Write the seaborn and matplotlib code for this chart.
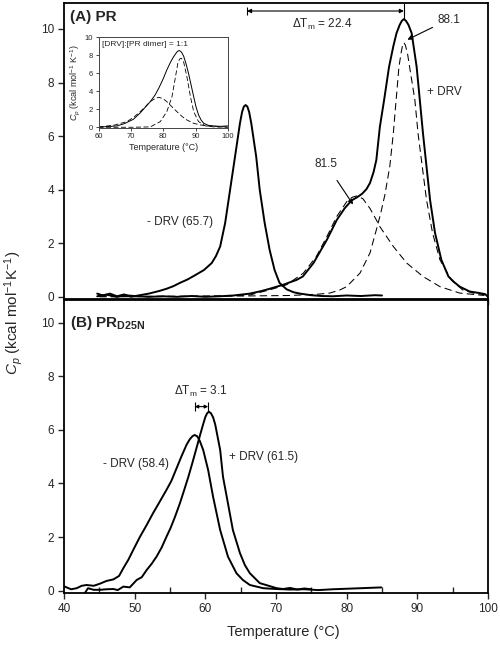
#!/usr/bin/env python3
import matplotlib

matplotlib.use("Agg")

import matplotlib.pyplot as plt
import pandas as pd
import seaborn as sns
from matplotlib.ticker import MultipleLocator

sns.set_theme(style="ticks")
plt.rcParams["font.family"] = ["Liberation Sans", "DejaVu Sans"]
plt.rcParams["mathtext.fontset"] = "custom"
plt.rcParams["mathtext.rm"] = "Liberation Sans"
plt.rcParams["mathtext.it"] = "Liberation Sans:italic"
plt.rcParams["mathtext.bf"] = "Liberation Sans:bold"
plt.rcParams["axes.unicode_minus"] = False

# (A) PR, free enzyme
pr_free_t = [44.7, 45.5, 46.5, 47.5, 48.5, 49.5, 50.5, 52.0, 53.5, 54.5, 55.5, 56.4, 57.5,
             58.5, 59.8, 60.9, 61.5, 62.1, 62.8, 63.5, 64.2, 64.9, 65.2, 65.45, 65.7,
             65.95, 66.2, 66.5, 67.2, 67.7, 68.4, 69.1, 69.8, 70.5, 71.5, 72.5, 73.4,
             75.0, 76.5, 78.0, 80.0, 82.0, 84.0, 85.0]
pr_free_cp = [0.12, 0.05, 0.12, 0.02, 0.09, 0.0, 0.05, 0.12, 0.22, 0.3, 0.4, 0.52, 0.65,
              0.8, 1.0, 1.26, 1.52, 1.88, 2.75, 3.99, 5.23, 6.48, 6.9, 7.1, 7.16,
              7.1, 6.9, 6.48, 5.23, 3.99, 2.75, 1.75, 1.0, 0.52, 0.28, 0.17, 0.12,
              0.06, 0.03, 0.02, 0.05, 0.03, 0.06, 0.05]

# (A) PR + DRV, measured
pr_drv_t = [44.7, 46.0, 47.5, 49.0, 50.5, 52.0, 54.0, 56.0, 58.0, 60.0, 62.0, 64.0, 66.3,
            68.0, 69.1, 71.0, 72.9, 73.8, 75.3, 77.2, 78.6, 79.7, 80.7, 81.5, 82.2,
            82.8, 83.3, 83.8, 84.2, 84.7, 85.3, 86.0, 86.6, 87.05, 87.5, 87.8, 88.1,
            88.4, 88.75, 89.2, 89.9, 90.35, 90.8, 91.3, 91.8, 92.5, 93.4, 94.4, 95.2,
            96.0, 97.4, 98.8, 99.6, 100.0]
pr_drv_cp = [0.02, 0.08, 0.0, 0.05, 0.02, 0.0, 0.02, 0.0, 0.03, 0.0, 0.02, 0.05, 0.12,
             0.22, 0.3, 0.45, 0.63, 0.76, 1.26, 2.13, 2.87, 3.3, 3.6, 3.72, 3.85,
             4.02, 4.25, 4.65, 5.11, 6.35, 7.35, 8.59, 9.35, 9.84, 10.15, 10.3, 10.37,
             10.3, 10.15, 9.84, 8.59, 7.35, 6.1, 4.86, 3.62, 2.39, 1.38, 0.76, 0.55,
             0.38, 0.2, 0.14, 0.1, 0.0]

# (A) deconvolved components
fit_hi_t = [45.0, 55.0, 65.0, 72.0, 76.0, 77.6, 79.0, 80.0, 81.9, 83.3, 84.2, 84.8, 85.4,
            86.1, 86.6, 87.0, 87.4, 87.7, 87.9, 88.1, 88.3, 88.6, 88.9, 89.65, 90.1,
            90.7, 91.3, 92.15, 93.2, 94.8, 96.4, 97.9, 99.5]
fit_hi_cp = [0.02, 0.02, 0.03, 0.05, 0.1, 0.14, 0.25, 0.38, 0.89, 1.64, 2.5, 3.1, 3.8,
             4.86, 6.1, 7.35, 8.59, 9.1, 9.38, 9.49, 9.4, 9.1, 8.59, 7.35, 6.1,
             4.86, 3.62, 2.39, 1.38, 0.63, 0.26, 0.14, 0.08]
fit_lo_t = [45.0, 55.0, 62.0, 66.3, 69.1, 71.5, 73.85, 75.7, 77.2, 78.6, 80.0, 80.8,
            81.5, 82.3, 83.3, 84.2, 84.7, 86.6, 88.5, 90.8, 93.2, 96.0, 99.5]
fit_lo_cp = [0.0, 0.01, 0.03, 0.07, 0.26, 0.45, 0.88, 1.5, 2.25, 3.0, 3.55, 3.72,
             3.77, 3.66, 3.3, 2.87, 2.62, 1.88, 1.26, 0.76, 0.38, 0.14, 0.05]

# (B) PR D25N
d25n_free_t = [40.1, 41.0, 41.8, 42.5, 43.2, 44.2, 45.1, 46.0, 47.0, 47.8, 48.4, 49.1,
               49.8, 50.75, 51.7, 52.6, 53.5, 54.5, 55.2, 55.9, 56.6, 57.35, 57.8, 58.2,
               58.5, 58.85, 59.2, 59.7, 60.4, 61.1, 62.1, 63.2, 64.4, 65.3, 66.3, 68.2,
               70.0, 72.0, 74.0, 76.0, 78.0, 80.0, 82.0, 84.9]
d25n_free_cp = [0.15, 0.05, 0.09, 0.18, 0.21, 0.18, 0.26, 0.36, 0.42, 0.55, 0.84, 1.15,
                1.52, 2.01, 2.45, 2.89, 3.3, 3.76, 4.1, 4.55, 5.0, 5.45, 5.65, 5.77,
                5.81, 5.76, 5.6, 5.25, 4.5, 3.5, 2.26, 1.27, 0.65, 0.4, 0.21, 0.09,
                0.06, 0.04, 0.05, 0.02, 0.05, 0.07, 0.09, 0.12]
d25n_drv_t = [43.0, 43.4, 44.2, 45.1, 46.0, 47.0, 47.6, 48.4, 49.3, 50.3, 51.0, 51.7,
              52.4, 53.1, 53.8, 54.5, 55.1, 55.7, 56.4, 57.0, 57.6, 58.2, 58.8, 59.3,
              59.7, 60.0, 60.25, 60.5, 60.8, 61.1, 61.4, 62.1, 62.5, 63.2, 63.9, 64.9,
              65.6, 66.3, 67.7, 70.1, 71.0, 72.0, 73.0, 74.0, 75.0]
d25n_drv_cp = [-0.07, 0.09, 0.03, 0.03, 0.05, 0.06, 0.02, 0.15, 0.12, 0.4, 0.5, 0.77,
               1.0, 1.27, 1.6, 2.01, 2.35, 2.75, 3.26, 3.75, 4.25, 4.8, 5.37, 5.85,
               6.22, 6.48, 6.62, 6.68, 6.62, 6.47, 6.2, 5.25, 4.25, 3.26, 2.26, 1.4,
               0.95, 0.65, 0.28, 0.09, 0.06, 0.1, 0.04, 0.08, 0.05]

# inset, [DRV]:[PR dimer] = 1:1
ins_t = [60.0, 62.0, 65.7, 68.0, 70.8, 72.9, 74.5, 76.0, 77.5, 78.6, 80.0, 81.1, 82.2,
         83.2, 84.2, 84.6, 84.9, 85.3, 85.7, 86.3, 87.0, 87.8, 88.6, 89.4, 90.1, 90.9,
         91.7, 92.5, 94.0, 95.6, 97.5, 100.0]
ins_cp = [0.03, 0.06, 0.15, 0.4, 0.89, 1.6, 2.25, 2.85, 3.6, 4.33, 5.4, 6.37, 7.2, 7.85,
          8.35, 8.48, 8.52, 8.47, 8.3, 7.9, 7.1, 6.0, 4.7, 3.4, 2.3, 1.37, 0.8, 0.44,
          0.2, 0.15, 0.1, 0.15]
ins_hi_t = [60.0, 70.0, 76.0, 79.1, 81.1, 82.7, 83.7, 84.5, 85.0, 85.4, 85.8, 86.3,
            87.3, 88.4, 89.4, 90.9, 93.0, 95.6, 100.0]
ins_hi_cp = [0.0, 0.0, 0.04, 0.63, 1.74, 3.4, 5.44, 7.1, 7.55, 7.67, 7.6, 7.25, 5.63,
             3.4, 1.74, 0.63, 0.15, 0.04, 0.0]
ins_lo_t = [60.0, 65.0, 68.8, 71.0, 72.9, 74.5, 76.0, 77.5, 78.6, 79.8, 81.1, 82.6,
            84.2, 85.8, 87.3, 89.3, 91.4, 94.0, 96.6, 100.0]
ins_lo_cp = [0.02, 0.25, 0.63, 1.15, 1.74, 2.3, 2.85, 3.2, 3.33, 3.2, 2.85, 2.3, 1.74,
             1.2, 0.81, 0.45, 0.26, 0.13, 0.07, 0.03]

DASH = (0, (7, 4))


def curve(ax, t, cp, lw=1.4, ls="-"):
    df = pd.DataFrame({"t": t, "cp": cp})
    sns.lineplot(data=df, x="t", y="cp", ax=ax, color="black", lw=lw, ls=ls,
                 sort=False, estimator=None, solid_joinstyle="round",
                 dash_joinstyle="round", solid_capstyle="round")


def style_main(ax, ylim):
    ax.set_xlim(40, 100)
    ax.set_ylim(*ylim)
    ax.set_yticks([0, 2, 4, 6, 8, 10])
    ax.xaxis.set_major_locator(MultipleLocator(10))
    ax.xaxis.set_minor_locator(MultipleLocator(5))
    ax.set_xlabel("")
    ax.set_ylabel("")
    for s in ax.spines.values():
        s.set_linewidth(1.3)
        s.set_color("black")
    ax.tick_params(axis="y", which="major", direction="out", length=4, width=1,
                   labelsize=8.5, pad=3)


fig = plt.figure(figsize=(5.0, 6.46), dpi=100)
ax_a = fig.add_axes([0.128, 0.5372, 0.848, 0.4582])
ax_b = fig.add_axes([0.128, 0.082, 0.848, 0.4536])

# ---- panel A
curve(ax_a, fit_hi_t, fit_hi_cp, lw=0.75, ls=DASH)
curve(ax_a, fit_lo_t, fit_lo_cp, lw=0.75, ls=DASH)
curve(ax_a, pr_free_t, pr_free_cp)
curve(ax_a, pr_drv_t, pr_drv_cp)
style_main(ax_a, (-0.08, 10.97))
ax_a.tick_params(axis="x", which="both", direction="out", length=4, width=1,
                 labelbottom=False)

ax_a.text(40.8, 10.45, "(A) PR", fontsize=11, fontweight="bold", va="center")
ax_a.annotate("", xy=(65.9, 10.67), xytext=(88.1, 10.67),
              arrowprops=dict(arrowstyle="<|-|>", lw=0.8, color="black",
                              mutation_scale=6, shrinkA=0, shrinkB=0))
ax_a.vlines(65.9, 10.52, 10.82, color="black", lw=0.8)
ax_a.vlines(88.1, 10.37, 10.97, color="black", lw=0.8)
ax_a.text(76.6, 10.15, r"$\Delta$T$_\mathrm{m}$ = 22.4", fontsize=8.5,
          ha="center", va="center")
ax_a.annotate("88.1", xy=(88.6, 9.6), xytext=(92.8, 10.35), fontsize=8.5,
              va="center", ha="left",
              arrowprops=dict(arrowstyle="-|>", lw=0.8, color="black",
                              mutation_scale=7, shrinkA=1, shrinkB=0))
ax_a.text(91.3, 7.65, "+ DRV", fontsize=8.5, va="center")
ax_a.annotate("81.5", xy=(80.9, 3.45), xytext=(77.1, 4.95), fontsize=8.5,
              ha="center", va="center",
              arrowprops=dict(arrowstyle="-|>", lw=0.8, color="black",
                              mutation_scale=7, shrinkA=6, shrinkB=0))
ax_a.text(51.7, 2.8, "- DRV (65.7)", fontsize=8.5, va="center")

# ---- inset
ax_in = fig.add_axes([0.197, 0.8023, 0.259, 0.14])
curve(ax_in, ins_hi_t, ins_hi_cp, lw=0.6, ls=(0, (6, 3)))
curve(ax_in, ins_lo_t, ins_lo_cp, lw=0.6, ls=(0, (6, 3)))
curve(ax_in, ins_t, ins_cp, lw=0.7)
ax_in.set_xlim(60, 100)
ax_in.set_ylim(-0.05, 10)
ax_in.set_xticks([60, 70, 80, 90, 100])
ax_in.set_yticks([0, 2, 4, 6, 8, 10])
ax_in.tick_params(labelsize=5.5, length=2, width=0.6, pad=2)
for s in ax_in.spines.values():
    s.set_linewidth(0.7)
    s.set_color("#444444")
ax_in.set_xlabel("Temperature (°C)", fontsize=6.5, labelpad=2)
ax_in.set_ylabel(r"$C_p$ (kcal mol$^{-1}$ K$^{-1}$)", fontsize=6.5, labelpad=2)
ax_in.text(61, 9.2, "[DRV]:[PR dimer] = 1:1", fontsize=6, va="center")

# ---- panel B
curve(ax_b, d25n_free_t, d25n_free_cp)
curve(ax_b, d25n_drv_t, d25n_drv_cp)
style_main(ax_b, (-0.09, 10.85))
ax_b.tick_params(axis="x", which="major", direction="out", length=4, width=1,
                 labelsize=8.5, pad=3)
ax_b.tick_params(axis="x", which="minor", direction="in", length=4, width=1)
ax_b.set_xticks([40, 50, 60, 70, 80, 90, 100])

ax_b.text(40.8, 10.0, r"(B) PR$_{\mathbf{D25N}}$", fontsize=11, fontweight="bold",
          va="center")
ax_b.annotate("", xy=(58.5, 6.87), xytext=(60.4, 6.87),
              arrowprops=dict(arrowstyle="<|-|>", lw=0.8, color="black",
                              mutation_scale=5, shrinkA=0, shrinkB=0))
ax_b.vlines([58.5, 60.4], 6.72, 7.05, color="black", lw=0.8)
ax_b.text(59.4, 7.45, r"$\Delta$T$_\mathrm{m}$ = 3.1", fontsize=8.5,
          ha="center", va="center")
ax_b.text(45.5, 4.73, "- DRV (58.4)", fontsize=8.5, va="center")
ax_b.text(63.3, 5.0, "+ DRV (61.5)", fontsize=8.5, va="center")

fig.text(0.028, 0.515, r"$C_p$ (kcal mol$^{-1}$K$^{-1}$)", fontsize=11,
         rotation=90, ha="center", va="center")
fig.text(0.567, 0.022, "Temperature (°C)", fontsize=10.5, ha="center", va="center")

fig.savefig("out.png", dpi=100)
